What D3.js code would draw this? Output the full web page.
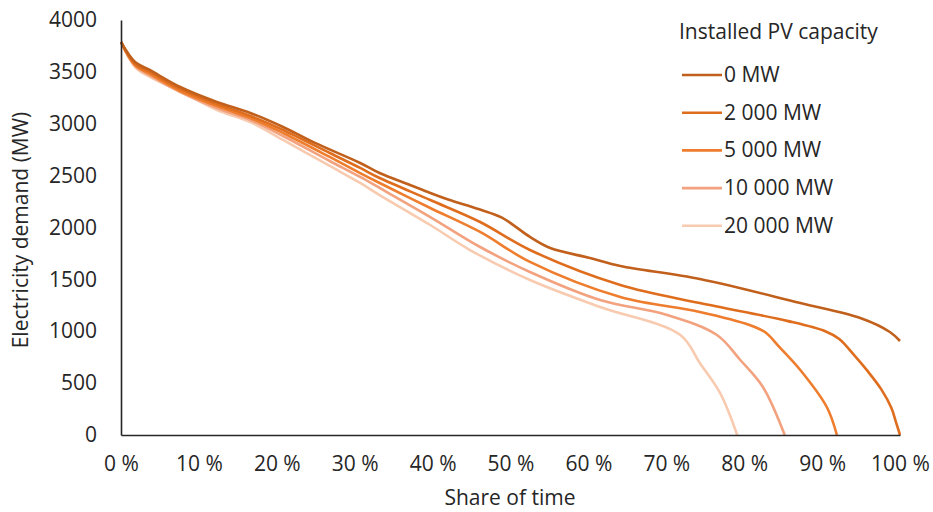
<!DOCTYPE html>
<html><head><meta charset="utf-8">
<script src="https://cdn.jsdelivr.net/npm/d3@7/dist/d3.min.js"></script>
<style>body{margin:0;background:#fff}svg{display:block}text{font-family:"Open Sans",Lato,sans-serif;fill:#262626}</style>
</head><body><svg id="c" width="933" height="512"></svg>
<script>
const seriesNames = ["0 MW", "2 000 MW", "5 000 MW", "10 000 MW", "20 000 MW"];
const colors = ["#C0601C", "#DF6D1E", "#EE7D2E", "#F2A27E", "#F8CBB0"];
const yTicks = [0, 500, 1000, 1500, 2000, 2500, 3000, 3500, 4000];
const xTicks = [0, 10, 20, 30, 40, 50, 60, 70, 80, 90, 100];
// [share of time %, MW]
const pv0 = [[0,3788],[1.8,3595],[3.7,3518],[7.6,3354],[12.3,3210],[16.6,3104],[20.8,2969],[24.9,2815],[30.7,2622],[33.2,2525],[37.1,2410],[39.7,2333],[42.0,2270],[46.0,2175],[48.9,2095],[52.5,1909],[55.1,1802],[60.2,1706],[64.1,1629],[74.3,1504],[87.2,1272],[94.9,1128],[98.7,993],[100,906]];
const pv2000 = [[0,3788],[1.8,3576],[3.7,3499],[7.6,3335],[12.3,3190],[16.6,3075],[20.8,2940],[26.8,2718],[30.7,2574],[33.2,2477],[39.7,2265],[46.1,2053],[52.5,1783],[64.1,1446],[74.3,1272],[85.5,1100],[90.4,1000],[92.2,925],[94.0,780],[95.8,620],[97.6,440],[98.9,260],[99.5,120],[100,0]];
const pv5000 = [[0,3788],[1.8,3566],[3.7,3480],[7.6,3316],[12.3,3171],[16.6,3056],[20.8,2911],[26.8,2680],[30.7,2525],[33.2,2429],[39.7,2188],[46.1,1957],[52.5,1668],[64.1,1330],[74.3,1186],[80.7,1060],[82.7,990],[84.5,850],[87.2,627],[90.6,270],[91.9,0]];
const pv10000 = [[0,3788],[1.8,3557],[3.7,3465],[7.6,3306],[12.3,3152],[16.6,3036],[20.8,2882],[26.8,2641],[30.7,2487],[33.2,2381],[39.7,2101],[46.1,1812],[52.5,1571],[61.5,1301],[70.1,1157],[76.5,964],[79.5,723],[82.4,463],[85.2,0]];
const pv20000 = [[0,3788],[1.8,3547],[3.7,3451],[8.0,3297],[12.3,3133],[16.6,3017],[20.8,2844],[26.8,2593],[30.7,2429],[33.2,2313],[39.7,2024],[44.8,1783],[52.5,1494],[61.5,1234],[71.8,964],[74.3,694],[76.9,405],[79.1,0]];
const seriesData = [pv0, pv2000, pv5000, pv10000, pv20000];

const svg = d3.select("#c");
const x = d3.scaleLinear().domain([0, 100]).range([121, 900]);
const y = d3.scaleLinear().domain([0, 4000]).range([435, 20]);
const FONT = "21px";

const line = d3.line().x(d => x(d[0])).y(d => y(d[1])).curve(d3.curveCatmullRom.alpha(0.5));
const plot = svg.append("g");
seriesData.slice().reverse().forEach((s, i) => {
  const idx = seriesData.length - 1 - i;
  plot.append("path").datum(s).attr("d", line).attr("fill", "none")
    .attr("stroke", colors[idx]).attr("stroke-width", 2.6).attr("stroke-linejoin", "round");
});

const yAxis = svg.append("g").attr("transform", `translate(${x(0)},0)`)
  .call(d3.axisLeft(y).tickValues(yTicks).tickSize(0).tickPadding(24).tickFormat(d3.format("d")));
const xAxis = svg.append("g").attr("transform", `translate(0,${y(0)})`)
  .call(d3.axisBottom(x).tickValues(xTicks).tickSize(0).tickPadding(21).tickFormat(d => d + " %"));
[yAxis, xAxis].forEach(a => {
  a.select(".domain").attr("stroke", "#262626").attr("stroke-width", 1.6);
  a.selectAll("text").style("font-size", FONT).style("font-family", "'Open Sans', Lato, sans-serif").attr("fill", "#262626");
});

svg.append("text").attr("transform", "translate(28,230) rotate(-90)").attr("text-anchor", "middle")
  .style("font-size", FONT).text("Electricity demand (MW)");
svg.append("text").attr("x", 510).attr("y", 505).attr("text-anchor", "middle")
  .style("font-size", FONT).text("Share of time");

const lg = svg.append("g");
lg.append("text").attr("x", 679).attr("y", 39).style("font-size", FONT).text("Installed PV capacity");
seriesNames.forEach((n, i) => {
  const yy = 75 + i * 37.7;
  lg.append("line").attr("x1", 682).attr("x2", 722).attr("y1", yy).attr("y2", yy)
    .attr("stroke", colors[i]).attr("stroke-width", 2.6);
  lg.append("text").attr("x", 724).attr("y", yy + 7).style("font-size", FONT).text(n);
});
</script></body></html>
